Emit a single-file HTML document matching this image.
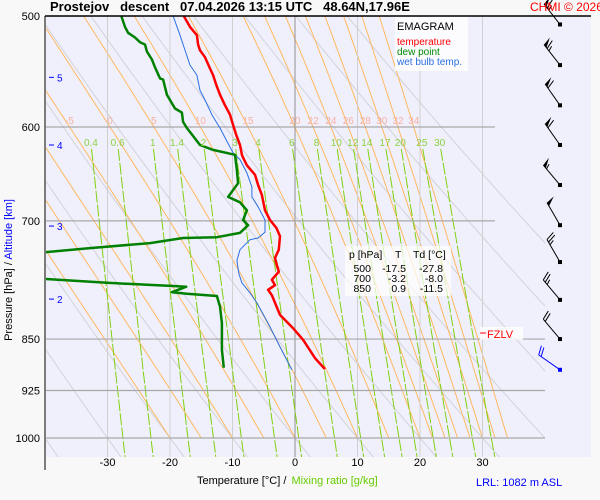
<!DOCTYPE html>
<html><head><meta charset="utf-8">
<style>
html,body{margin:0;padding:0;background:#f8f8f8;}
svg{display:block;font-family:"Liberation Sans",sans-serif;}
</style></head>
<body>
<svg id="chart" width="600" height="500" viewBox="0 0 600 500" xmlns="http://www.w3.org/2000/svg">
<defs><clipPath id="plotclip"><rect x="46" y="16" width="499" height="441"/></clipPath></defs>
<rect x="46" y="16" width="545" height="441" fill="#f0f0fc"/>
<g id="grid" clip-path="url(#plotclip)"></g>
<g id="isob"></g>
<g id="series"></g>
<g id="barbs"></g>
<g id="labels"></g>
<line x1="45" y1="16" x2="591" y2="16" stroke="#000" stroke-width="1.5"/>
<line x1="45" y1="16" x2="45" y2="470" stroke="#000" stroke-width="1"/>
<text x="50" y="11" font-size="13" font-weight="bold" fill="#000" xml:space="preserve">Prostejov   descent   07.04.2026 13:15 UTC   48.64N,17.96E</text>
<text x="530" y="11" font-size="12" fill="#f00">CHMI © 2026</text>
<g>
<rect x="395" y="17" width="73" height="54" fill="#fff" opacity="0.8"/>
<text x="397" y="30" font-size="11" fill="#000">EMAGRAM</text>
<text x="397" y="45" font-size="10" fill="#f00">temperature</text>
<text x="397" y="55" font-size="10" fill="#080">dew point</text>
<text x="397" y="65" font-size="10" fill="#2a6fe0">wet bulb temp.</text>
</g>
<g font-size="10.5" fill="#000">
<rect x="345" y="246" width="106" height="50" fill="#fff" opacity="0.7"/>
<text x="349" y="258">p [hPa]</text><text x="395" y="258">T</text><text x="413" y="258">Td [°C]</text>
<text x="371" y="272" text-anchor="end">500</text><text x="406" y="272" text-anchor="end">-17.5</text><text x="443" y="272" text-anchor="end">-27.8</text>
<text x="371" y="282" text-anchor="end">700</text><text x="406" y="282" text-anchor="end">-3.2</text><text x="443" y="282" text-anchor="end">-8.0</text>
<text x="371" y="292" text-anchor="end">850</text><text x="406" y="292" text-anchor="end">0.9</text><text x="443" y="292" text-anchor="end">-11.5</text>
</g>
<g>
<rect x="480" y="327" width="43" height="13" fill="#fff" opacity="0.8"/>
<line x1="480" y1="333" x2="486" y2="333" stroke="#f00"/>
<text x="487" y="338" font-size="11" fill="#f00">FZLV</text>
</g>
<text x="12" y="270" font-size="11" fill="#000" transform="rotate(-90 12 270)" text-anchor="middle">Pressure [hPa]  /  <tspan fill="#00f">Altitude [km]</tspan></text>
<text x="197" y="484" font-size="11" fill="#000">Temperature [°C]  /  <tspan fill="#6c0" dx="2">Mixing ratio [g/kg]</tspan></text>
<text x="476" y="486" font-size="11" fill="#00f">LRL: 1082 m ASL</text>
</svg>
<script>
// ---- data ----
const tempP = [500,509,516,524,529,535,545,551,560,569,579,588,598,608,618,628,631,639,649,660,671,688,699,708,718,734,744,753,761,771,778,784,791,817,835,851,877,893];
const tempT = [-17.8,-16.8,-15.7,-15.5,-15.2,-14.4,-13.6,-13.1,-12.6,-12.0,-11.2,-10.4,-9.9,-9.4,-8.8,-8.5,-8.3,-7.7,-6.4,-5.9,-5.3,-4.8,-4.0,-3.0,-2.4,-2.6,-3.2,-2.9,-2.6,-3.7,-3.2,-4.3,-3.7,-2.4,-0.3,1.3,3.2,4.8];
const dewP = [500,509,514,518,522,524,530,537,544,554,555,569,574,582,586,595,601,618,623,628,644,658,673,679,688,699,705,714,719,720,726,732,737,null,770,775,779,780,787,789,792,806,828,851,865,891];
const dewT = [-27.8,-27.2,-26.7,-25.6,-24.8,-24.0,-23.7,-22.9,-22.4,-21.6,-21.1,-20.5,-20.0,-19.2,-18.1,-17.9,-17.3,-15.2,-13.1,-9.6,-9.3,-9.1,-10.7,-8.8,-7.7,-8.3,-7.5,-8.8,-12.5,-17.9,-23.2,-32.8,-40,null,-40,-30.1,-19.5,-17.4,-19.7,-17.3,-12.5,-12.0,-11.7,-11.7,-11.7,-11.4];
const wbP = [500,516,524,542,551,565,574,588,601,613,626,633,647,662,673,684,699,713,720,722,734,747,763,775,788,801,833,861,894];
const wbT = [-19.5,-18.4,-17.9,-16.8,-15.7,-15.2,-14.4,-13.3,-12.0,-11.0,-9.9,-8.8,-7.7,-6.9,-6.9,-5.9,-4.8,-4.8,-5.9,-7.2,-8.8,-9.3,-9.0,-8.5,-7.2,-6.1,-4.0,-2.4,-0.5];
const isobars = [500,600,700,850,925,1000];
const isotherms = [-30,-20,-10,0,10,20,30];
const satAdiabats = [-20,-15,-10,-5,0,5,10,15,20,22,24,26,28,30,32,34];
const satLabels = [-5,0,5,10,15,20,22,24,26,28,30,32,34];
const dryThetas = [-60,-50,-40,-30,-20,-10,0,10,20,30,40,50,60,70];
const mixRatios = [0.4,0.6,1,1.4,2,3,4,6,8,10,12,14,17,20,25,30];
const altKm = [5,4,3,2];
const altP = [553,618,706,796];
const windP = [507,542,579,618,660,705,749,797,850,894];
const windDir = [322,322,325,325,320,330,330,320,320,305];
const windSpd = [65,65,60,60,55,50,25,25,20,20];

// ---- scales ----
const NS='http://www.w3.org/2000/svg';
function yP(p){return 16+Math.log(p/500)/Math.log(2)*422;}
function xT(t){return 295+t*6.25;}
function mk(tag,attrs,parent){const e=document.createElementNS(NS,tag);for(const k in attrs)e.setAttribute(k,attrs[k]);parent.appendChild(e);return e;}
const grid=document.getElementById('grid'),isob=document.getElementById('isob'),series=document.getElementById('series'),barbs=document.getElementById('barbs'),labels=document.getElementById('labels');
function es(t){return 6.112*Math.exp(17.67*t/(t+243.5));}

// dry adiabats
dryThetas.forEach(th=>{
  let pts=[];const thK=th+273.15;
  for(let p=480;p<=1040;p+=10){const T=thK*Math.pow(p/1000,0.2857)-273.15;pts.push(xT(T).toFixed(1)+','+yP(p).toFixed(1));}
  const e=mk('polyline',{points:pts.join(' '),fill:'none',stroke:'#d2d2d8','stroke-width':1},grid);
  
  
});
// saturated adiabats
function satLine(tw){
  let T=tw+273.15,p=1000;const res=[[p,T]];
  const Rd=287,cp=1004,L=2.5e6,eps=0.622;
  while(p>480){const dp=-5;const tc=T-273.15;const e=es(tc);const rs=eps*e/(p-e);
    const dTdp=(Rd*T+L*rs)/(p*(cp+L*L*rs*eps/(Rd*T*T)));T+=dTdp*dp;p+=dp;res.push([p,T]);}
  return res;
}
const satAt600={};
satAdiabats.forEach(tw=>{
  const r=satLine(tw);
  r.forEach(([p,T])=>{if(p===600)satAt600[tw]=T-273.15;});
  const e=mk('polyline',{points:r.map(([p,T])=>xT(T-273.15).toFixed(1)+','+yP(p).toFixed(1)).join(' '),fill:'none',stroke:'#ffb860','stroke-width':1},grid);
  
  
});
// isotherms
isotherms.forEach(t=>{
  const e=mk('line',{x1:xT(t),x2:xT(t),y1:16,y2:457,stroke:t===0?'#909090':'#d0d0d0','stroke-width':1},grid);
  
  
  const l=mk('text',{x:xT(t),y:466,'font-size':11,'text-anchor':'middle',fill:'#000'},labels);
  l.textContent=String(t);
  
  
});
// mixing ratio
function tdFor(w,p){const e=w*p/(622+w);const a=Math.log(e/6.112);return 243.5*a/(17.67-a);}
mixRatios.forEach(w=>{
  const pts=[];for(let p=622;p<=1032;p+=10)pts.push(xT(tdFor(w,p)).toFixed(1)+','+yP(p).toFixed(1));
  const e=mk('polyline',{points:pts.join(' '),fill:'none',stroke:'#80d010','stroke-width':1,'stroke-dasharray':'12 2'},grid);
  
  
  const l=mk('text',{x:xT(tdFor(w,616)),y:146,'font-size':10,'text-anchor':'middle',fill:'#8cd040'},labels);
  l.textContent=String(w);
  
  
});
// sat labels
satLabels.forEach(tw=>{
  const l=mk('text',{x:xT(satAt600[tw]),y:124,'font-size':10,'text-anchor':'middle',fill:'#f8b0a0'},labels);
  l.textContent=String(tw);
  
  
});
// isobars
isobars.forEach(p=>{
  if(p!==500){const e=mk('line',{x1:46,x2:(p===600||p===700)?495:545,y1:yP(p),y2:yP(p),stroke:'#a8a8a8','stroke-width':1.2},isob);
  
  }
  const l=mk('text',{x:40,y:yP(p)+4,'font-size':11,'text-anchor':'end',fill:'#000'},labels);
  l.textContent=String(p);
  
  
});
// altitude
altKm.forEach((k,i)=>{
  const y=yP(altP[i]);
  const d=mk('line',{x1:49,x2:54,y1:y,y2:y,stroke:'#00f'},labels);
  
  
  const l=mk('text',{x:57,y:y+4,'font-size':10,fill:'#00f'},labels);
  l.textContent=String(k);
  
  
});
// profiles
const sclip=mk('g',{'clip-path':'url(#plotclip)'},series);
function prof(P,T,color,w,name){
  let d='',pen=false;
  P.forEach((p,i)=>{
    if(p===null||T[i]===null){pen=false;return;}
    d+=(pen?'L':'M')+xT(T[i]).toFixed(1)+','+yP(p).toFixed(1)+' ';pen=true;
  });
  const e=mk('path',{d:d,fill:'none',stroke:color,'stroke-width':w,'stroke-linejoin':'round'},sclip);
  
  
}
prof(wbP,wbT,'#2a6fe0',1,'wet-bulb-line');
prof(dewP,dewT,'#008000',2.5,'dew-point-line');
prof(tempP,tempT,'#f00',2.5,'temperature-line');
// wind barbs
windP.forEach((p,i)=>{
  const last=i===windP.length-1;const col=last?'#00f':'#000';
  const g=mk('g',{},barbs);
  
  
  const x0=560,y0=yP(p),a=windDir[i]*Math.PI/180,L=26;
  const ux=Math.sin(a),uy=-Math.cos(a);const vx=-uy,vy=ux;
  mk('rect',{x:x0-2,y:y0-2,width:4,height:4,fill:col},g);
  const tx=x0+ux*L,ty=y0+uy*L;
  mk('line',{x1:x0,y1:y0,x2:tx,y2:ty,stroke:col,'stroke-width':1},g);
  let s=windSpd[i],pos=0;
  while(s>=50){const bx=tx-ux*pos,by=ty-uy*pos;
    mk('polygon',{points:`${bx},${by} ${bx+vx*9+ux*2},${by+vy*9+uy*2} ${bx-ux*4},${by-uy*4}`,fill:col},g);s-=50;pos+=5;}
  while(s>=10){const bx=tx-ux*pos,by=ty-uy*pos;
    mk('line',{x1:bx,y1:by,x2:bx+vx*9+ux*3,y2:by+vy*9+uy*3,stroke:col},g);s-=10;pos+=3;}
  if(s>=5){const bx=tx-ux*pos,by=ty-uy*pos;mk('line',{x1:bx,y1:by,x2:bx+vx*5+ux*2,y2:by+vy*5+uy*2,stroke:col},g);}
});
</script>
</body></html>
